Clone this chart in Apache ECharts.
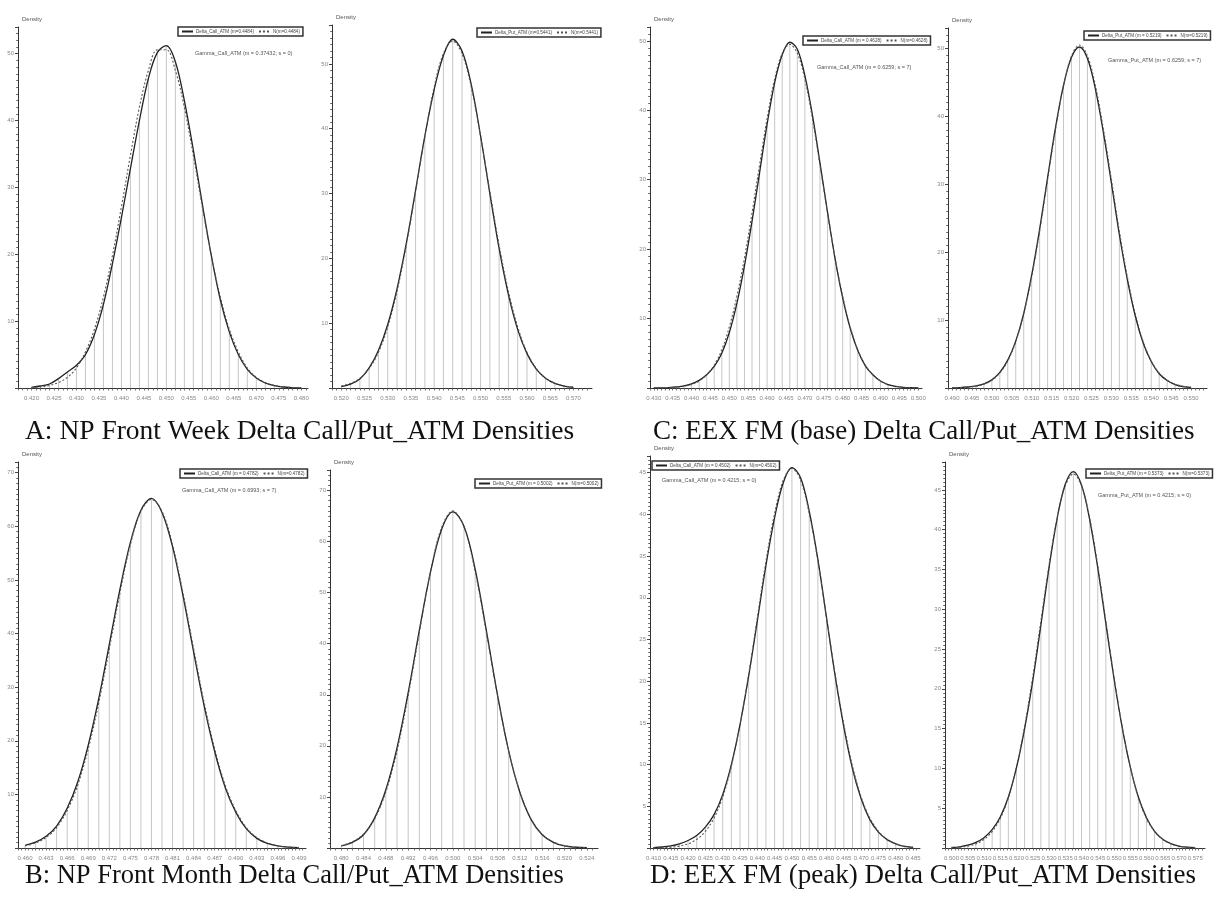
<!DOCTYPE html>
<html><head><meta charset="utf-8">
<script src="https://cdn.jsdelivr.net/npm/echarts@6/dist/echarts.min.js"></script>
<style>html,body{margin:0;padding:0;background:#fff}#c{width:1219px;height:898px}</style>
</head><body><div id="c"></div>
<script>
// ---------- DATA ----------
// A: NP Front Week
const xLabelsA1 = [0.420,0.425,0.430,0.435,0.440,0.445,0.450,0.455,0.460,0.465,0.470,0.475,0.480];
const binStartA1 = 0.420, binWidthA1 = 0.002;
const densA1 = [0.1,0.3,0.6,1.4,2.4,3.4,5.0,8.0,12.5,18.6,25.5,32.8,40.0,46.3,50.2,51.2,48.8,43.0,35.6,27.5,19.8,13.2,8.4,5.0,2.8,1.5,0.75,0.35,0.15,0.06,0.02];
const normA1 = [0.07,0.17,0.39,0.82,1.6,3.0,5.4,8.8,13.6,19.8,27.1,34.8,42.0,47.5,50.6,50.6,47.5,42.0,34.8,27.1,19.8,13.6,8.8,5.4,3.0,1.6,0.82,0.39,0.17,0.07,0.03];
const legendA1 = ['Delta_Call_ATM (m=0.4484)', 'N(m=0.4484)'];
const subA1 = 'Gamma_Call_ATM (m = 0.37432; s = 0)';

const xLabelsA2 = [0.520,0.525,0.530,0.535,0.540,0.545,0.550,0.555,0.560,0.565,0.570];
const binStartA2 = 0.520, binWidthA2 = 0.002;
const densA2 = [0.2,0.6,1.4,3.1,5.8,9.8,15.3,22.3,30.5,38.9,46.0,51.3,53.8,52.0,46.8,38.9,30.0,21.5,14.4,9.0,5.3,2.9,1.5,0.7,0.3,0.1];
const normA2 = [0.32,0.72,1.5,3.0,5.5,9.4,14.9,22.0,30.3,38.8,46.4,51.6,53.5,51.6,46.4,38.8,30.3,22.0,14.9,9.4,5.5,3.0,1.5,0.72,0.32,0.13];
const legendA2 = ['Delta_Put_ATM (m=0.5441)', 'N(m=0.5441)'];

// C: EEX FM (base)
const xLabelsC1 = [0.430,0.435,0.440,0.445,0.450,0.455,0.460,0.465,0.470,0.475,0.480,0.485,0.490,0.495,0.500];
const binStartC1 = 0.430, binWidthC1 = 0.002;
const densC1 = [0.0,0.02,0.06,0.15,0.3,0.6,1.1,1.9,3.1,5.0,8.0,12.2,17.6,24.0,31.0,38.0,44.0,48.0,49.8,48.8,45.0,39.3,32.4,25.3,18.6,13.0,8.6,5.4,3.2,1.9,1.0,0.5,0.25,0.1,0.05,0.02];
const normC1 = [0.01,0.02,0.05,0.11,0.25,0.5,1.0,1.9,3.3,5.5,8.8,13.2,18.7,25.2,32.1,38.8,44.5,48.2,49.5,48.2,44.5,38.8,32.1,25.2,18.7,13.2,8.8,5.5,3.3,1.9,1.0,0.5,0.25,0.11,0.05,0.02];
const legendC1 = ['Delta_Call_ATM (m = 0.4628)', 'N(m=0.4628)'];
const subC1 = 'Gamma_Call_ATM (m = 0.6259; s = 7)';

const xLabelsC2 = [0.490,0.495,0.500,0.505,0.510,0.515,0.520,0.525,0.530,0.535,0.540,0.545,0.550];
const binStartC2 = 0.490, binWidthC2 = 0.002;
const densC2 = [0.02,0.06,0.15,0.3,0.6,1.2,2.3,4.1,6.9,11.0,16.6,23.4,31.0,38.4,44.6,48.7,50.2,48.5,44.0,37.6,30.2,22.6,16.0,10.6,6.6,3.9,2.1,1.1,0.5,0.2,0.1];
const normC2 = [0.017,0.045,0.11,0.26,0.56,1.15,2.2,4.0,6.8,10.9,16.4,23.1,30.7,38.1,44.5,48.9,50.5,48.9,44.5,38.1,30.7,23.1,16.4,10.9,6.8,4.0,2.2,1.15,0.56,0.26,0.11];
const legendC2 = ['Delta_Put_ATM (m = 0.5219)', 'N(m=0.5219)'];
const subC2 = 'Gamma_Put_ATM (m = 0.6259; s = 7)';

// B: NP Front Month
const xLabelsB1 = [0.460,0.463,0.466,0.469,0.472,0.475,0.478,0.481,0.484,0.487,0.490,0.493,0.496,0.499];
const binStartB1 = 0.460, binWidthB1 = 0.0015;
const densB1 = [0.5,1.1,2.2,4.1,7.4,12.3,19.2,27.9,38.0,48.2,57.0,63.0,65.2,62.6,56.2,47.0,36.6,26.5,18.0,11.3,6.7,3.6,1.8,0.85,0.38,0.15,0.06];
const normB1 = [0.42,0.94,1.95,3.8,7.0,11.7,18.5,27.1,37.2,47.5,56.6,62.8,65.0,62.8,56.6,47.5,37.2,27.1,18.5,11.7,7.0,3.8,1.95,0.94,0.42,0.18,0.07];
const legendB1 = ['Delta_Call_ATM (m = 0.4782)', 'N(m=0.4782)'];
const subB1 = 'Gamma_Call_ATM (m = 0.6993; s = 7)';

const xLabelsB2 = [0.480,0.484,0.488,0.492,0.496,0.500,0.504,0.508,0.512,0.516,0.520,0.524];
const binStartB2 = 0.480, binWidthB2 = 0.002;
const densB2 = [0.4,1.1,2.6,5.9,11.4,19.6,30.4,42.6,54.0,62.4,65.8,63.0,54.6,42.6,30.0,19.0,10.9,5.6,2.6,1.1,0.4,0.15,0.05];
const normB2 = [0.46,1.2,2.7,5.7,11.0,19.0,29.8,42.2,54.1,62.8,66.0,62.8,54.1,42.2,29.8,19.0,11.0,5.7,2.7,1.2,0.46,0.16,0.05];
const legendB2 = ['Delta_Put_ATM (m = 0.5002)', 'N(m=0.5002)'];

// D: EEX FM (peak)
const xLabelsD1 = [0.410,0.415,0.420,0.425,0.430,0.435,0.440,0.445,0.450,0.455,0.460,0.465,0.470,0.475,0.480,0.485];
const binStartD1 = 0.410, binWidthD1 = 0.0025;
const densD1 = [0.05,0.12,0.25,0.5,0.9,1.5,2.5,4.0,6.4,10.0,14.8,20.6,27.2,33.9,39.6,43.8,45.6,44.4,40.4,34.6,27.6,20.6,14.5,9.5,5.9,3.4,1.9,1.0,0.5,0.2,0.08];
const normD1 = [0.015,0.04,0.1,0.23,0.5,1.04,2.0,3.6,6.1,9.8,14.8,20.8,27.6,34.4,40.1,44.1,45.5,44.1,40.1,34.4,27.6,20.8,14.8,9.8,6.1,3.6,2.0,1.04,0.5,0.23,0.1];
const legendD1 = ['Delta_Call_ATM (m = 0.4502)', 'N(m=0.4502)'];
const subD1 = 'Gamma_Call_ATM (m = 0.4215; s = 0)';

const xLabelsD2 = [0.500,0.505,0.510,0.515,0.520,0.525,0.530,0.535,0.540,0.545,0.550,0.555,0.560,0.565,0.570,0.575];
const binStartD2 = 0.500, binWidthD2 = 0.0025;
const densD2 = [0.06,0.15,0.35,0.7,1.3,2.3,3.9,6.4,10.1,15.0,21.0,28.0,35.2,41.4,45.7,47.3,45.6,41.3,35.2,28.2,21.3,15.2,10.2,6.4,3.8,2.1,1.1,0.55,0.25,0.1,0.04];
const normD2 = [0.04,0.1,0.24,0.52,1.07,2.06,3.7,6.3,10.2,15.3,21.5,28.5,35.5,41.5,45.5,47,45.5,41.5,35.5,28.5,21.5,15.3,10.2,6.3,3.7,2.06,1.07,0.52,0.24,0.1,0.04];
const legendD2 = ['Delta_Put_ATM (m = 0.5373)', 'N(m=0.5373)'];
const subD2 = 'Gamma_Put_ATM (m = 0.4215; s = 0)';

const captions = [
  'A: NP Front Week Delta Call/Put_ATM Densities',
  'C: EEX FM (base) Delta Call/Put_ATM Densities',
  'B: NP Front Month Delta Call/Put_ATM Densities',
  'D: EEX FM (peak) Delta Call/Put_ATM Densities'
];

// ---------- LAYOUT ----------
const panels = [
  {labels:xLabelsA1, b0:binStartA1, bw:binWidthA1, dens:densA1, norm:normA1, names:legendA1, sub:subA1,
   L:{left:18,right:308,top:27,bottom:388,xMin:0.417,xMax:0.4815,minor:0.001,yMax:54,yStep:10,lg:[178,27],st:[195,50]}},
  {labels:xLabelsA2, b0:binStartA2, bw:binWidthA2, dens:densA2, norm:normA2, names:legendA2, sub:null,
   L:{left:332,right:592,top:25,bottom:388,xMin:0.518,xMax:0.574,minor:0.001,yMax:56,yStep:10,lg:[477,28]}},
  {labels:xLabelsC1, b0:binStartC1, bw:binWidthC1, dens:densC1, norm:normC1, names:legendC1, sub:subC1,
   L:{left:650,right:922,top:27,bottom:388,xMin:0.429,xMax:0.501,minor:0.001,yMax:52,yStep:10,lg:[803,36],st:[817,64]}},
  {labels:xLabelsC2, b0:binStartC2, bw:binWidthC2, dens:densC2, norm:normC2, names:legendC2, sub:subC2,
   L:{left:948,right:1207,top:28,bottom:388,xMin:0.489,xMax:0.554,minor:0.001,yMax:53,yStep:10,lg:[1084,31],st:[1108,57]}},
  {labels:xLabelsB1, b0:binStartB1, bw:binWidthB1, dens:densB1, norm:normB1, names:legendB1, sub:subB1,
   L:{left:18,right:306,top:462,bottom:848,xMin:0.459,xMax:0.500,minor:0.0005,yMax:72,yStep:10,lg:[180,469],st:[182,487]}},
  {labels:xLabelsB2, b0:binStartB2, bw:binWidthB2, dens:densB2, norm:normB2, names:legendB2, sub:null,
   L:{left:330,right:598,top:470,bottom:848,xMin:0.478,xMax:0.526,minor:0.001,yMax:74,yStep:10,lg:[475,479]}},
  {labels:xLabelsD1, b0:binStartD1, bw:binWidthD1, dens:densD1, norm:normD1, names:legendD1, sub:subD1,
   L:{left:650,right:920,top:456,bottom:848,xMin:0.409,xMax:0.487,minor:0.001,yMax:47,yStep:5,lg:[652,461],st:[662,477]}},
  {labels:xLabelsD2, b0:binStartD2, bw:binWidthD2, dens:densD2, norm:normD2, names:legendD2, sub:subD2,
   L:{left:945,right:1205,top:462,bottom:848,xMin:0.498,xMax:0.578,minor:0.001,yMax:48.5,yStep:5,lg:[1086,469],st:[1098,492]}}
];
const captionPos = [[25,418,27.5],[653,418,27],[25,863,26.5],[650,862,27]];

// ---------- BUILD ----------
const grid=[], xAxis=[], yAxis=[], series=[], legend=[], graphic=[];
panels.forEach((p,i)=>{
  const L=p.L;
  grid.push({left:L.left, top:L.top, width:L.right-L.left, height:L.bottom-L.top, containLabel:false, outerBoundsMode:'none'});
  const labs=p.labels;
  xAxis.push({type:'value', gridIndex:i, min:L.xMin, max:L.xMax, interval:L.minor,
    axisLine:{lineStyle:{color:'#333',width:1}},
    axisTick:{length:2.5, lineStyle:{color:'#555',width:0.8}},
    splitLine:{show:false},
    axisLabel:{fontSize:6, color:'#888', margin:7, showMaxLabel:false, showMinLabel:true,
      formatter:v=>labs.some(l=>Math.abs(l-v)<1e-7)?v.toFixed(3):''}});
  yAxis.push({type:'value', gridIndex:i, min:0, max:L.yMax, interval:L.yStep,
    name:'Density', nameLocation:'end', nameGap:5,
    nameTextStyle:{fontSize:6, color:'#555', align:'left', padding:[0,0,0,4]},
    axisLine:{show:true,lineStyle:{color:'#333',width:1}},
    axisTick:{show:true,length:3,lineStyle:{color:'#444'}},
    minorTick:{show:true,splitNumber:10,length:1.8,lineStyle:{color:'#666'}},
    splitLine:{show:false},
    axisLabel:{fontSize:6,color:'#888',margin:4,showMaxLabel:false,showMinLabel:false}});
  const xs=p.dens.map((_,k)=>p.b0+k*p.bw);
  series.push({type:'bar', name:'hist'+i, xAxisIndex:i, yAxisIndex:i, barWidth:1,
    itemStyle:{color:'#c6c6c6'}, data:p.dens.map((v,k)=>[xs[k],v]), z:1, silent:true});
  series.push({type:'line', name:p.names[0], xAxisIndex:i, yAxisIndex:i, smooth:0.35, symbol:'none',
    lineStyle:{color:'#222',width:1.3}, itemStyle:{color:'#222'}, data:p.dens.map((v,k)=>[xs[k],v]), z:3});
  series.push({type:'line', name:p.names[1], xAxisIndex:i, yAxisIndex:i, smooth:0.35, symbol:'none',
    lineStyle:{color:'#555',width:1.1,type:[2,2]}, itemStyle:{color:'#555'}, data:p.norm.map((v,k)=>[xs[k],v]), z:4});
  legend.push({data:p.names, left:L.lg[0], top:L.lg[1], orient:'horizontal', itemGap:4,
    itemWidth:11, itemHeight:5, padding:[2,3], borderColor:'#333', borderWidth:1.5,
    itemStyle:{opacity:0},
    textStyle:{fontSize:4.6,color:'#444', padding:[0,0,0,-2]}, selectedMode:false});
  if(p.sub){
    graphic.push({type:'text', left:L.st[0], top:L.st[1], style:{text:p.sub, font:'5.5px sans-serif', fill:'#555'}});
  }
});
captions.forEach((c,i)=>{
  graphic.push({type:'text', left:captionPos[i][0], top:captionPos[i][1],
    style:{text:c, font:captionPos[i][2]+'px "Liberation Serif"', fill:'#111'}});
});

const chart = echarts.init(document.getElementById('c'), null, {renderer:'canvas'});
chart.setOption({animation:false, backgroundColor:'#fff', grid, xAxis, yAxis, series, legend, graphic});
</script>
</body></html>
